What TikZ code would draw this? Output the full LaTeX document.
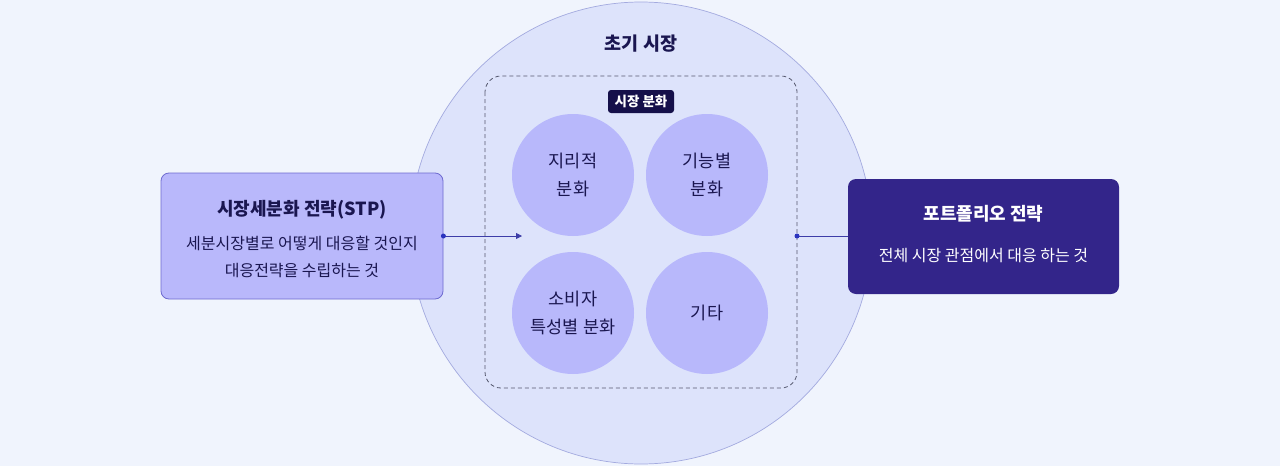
\documentclass[tikz,border=0pt]{standalone}
\usepackage{fontspec}
\setmainfont{Noto Sans CJK KR}
\usetikzlibrary{arrows.meta}
\definecolor{bg}{HTML}{F0F4FD}
\definecolor{bigfill}{HTML}{DDE3FB}
\definecolor{bigline}{HTML}{A3AADF}
\definecolor{smallfill}{HTML}{B8B8FB}
\definecolor{navy}{HTML}{1A1650}
\definecolor{tagfill}{HTML}{15104A}
\definecolor{leftfill}{HTML}{B9B8FB}
\definecolor{leftline}{HTML}{6E6BD0}
\definecolor{rightfill}{HTML}{33258A}
\definecolor{conn}{HTML}{3D3DA8}
\definecolor{dotc}{HTML}{2B34BE}
\definecolor{dashcol}{HTML}{55586E}
\begin{document}
\begin{tikzpicture}[x=1pt,y=-1pt,
  seg/.style={circle,fill=smallfill,minimum size=122pt,inner sep=0pt,align=center,text=navy,font=\fontsize{17.5}{28}\selectfont},
  dotmark/.style={circle,fill=dotc,inner sep=0pt,minimum size=5pt},
  conline/.style={draw=conn,line width=0.8pt}]
\fill[bg] (0,0) rectangle (1280,466);
\useasboundingbox (0,0) rectangle (1280,466);
\node[circle,fill=bigfill,draw=bigline,line width=0.7pt,minimum size=462pt,inner sep=0pt] (market) at (641,233) {};
\node[font=\fontsize{18.5}{22}\selectfont\bfseries,text=navy] (mtitle) at (641,44) {초기 시장};
\draw[draw=dashcol,line width=0.8pt,rounded corners=16pt,dash pattern=on 4pt off 3pt] (485,76) rectangle (797,388);
\coordinate (dl) at (522,236);
\coordinate (dr) at (797,236);
\node[fill=tagfill,text=white,rounded corners=3pt,font=\fontsize{13.5}{15}\selectfont\bfseries,minimum width=66pt,minimum height=23pt,inner sep=0pt] (tag) at (641,101.5) {시장 분화};
\node[seg] (geo) at (573,175) {지리적\\분화};
\node[seg] (func) at (707,175) {기능별\\분화};
\node[seg] (cons) at (573,313) {소비자\\특성별 분화};
\node[seg] (etc) at (707,313) {기타};
\node[fill=leftfill,draw=leftline,line width=0.8pt,rounded corners=8pt,minimum width=282pt,minimum height=126pt,inner sep=0pt] (stp) at (302,236) {};
\node[font=\fontsize{18}{22}\selectfont\bfseries,text=navy] (stpt) at (302,210) {시장세분화 전략(STP)};
\node[font=\fontsize{16}{27}\selectfont,text=navy,align=center] (stpb) at (302,256.5) {세분시장별로 어떻게 대응할 것인지\\대응전략을 수립하는 것};
\node[fill=rightfill,rounded corners=8pt,minimum width=271pt,minimum height=115pt,inner sep=0pt] (port) at (983.5,236.5) {};
\node[font=\fontsize{18}{22}\selectfont\bfseries,text=white] (portt) at (983.5,214) {포트폴리오 전략};
\node[font=\fontsize{16}{20}\selectfont,text=white] (portb) at (983.5,256) {전체 시장 관점에서 대응 하는 것};
\draw[conline,-{Triangle[length=6pt,width=6pt]}] (stp.east |- dl) -- (dl);
\node[dotmark] at (stp.east |- dl) {};
\draw[conline] (dr) -- (port.west |- dr);
\node[dotmark] at (dr) {};
\end{tikzpicture}
\end{document}
